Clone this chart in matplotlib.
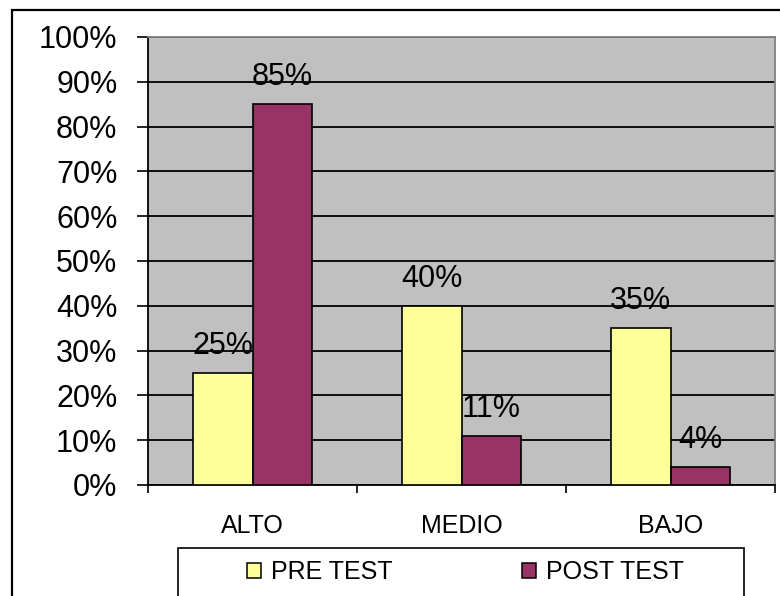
import numpy as np
import matplotlib
matplotlib.use("Agg")
import matplotlib.pyplot as plt
from matplotlib.patches import Rectangle, Patch
from matplotlib.ticker import FuncFormatter, FixedLocator

categories = ["ALTO", "MEDIO", "BAJO"]
pre_test = [25, 40, 35]
post_test = [85, 11, 4]
series_names = ["PRE TEST", "POST TEST"]
yticks = list(range(0, 101, 10))

YELLOW, PURPLE, PLOT_BG = "#FFFF99", "#993366", "#C0C0C0"

plt.rcParams["font.family"] = ["Liberation Sans", "DejaVu Sans"]

W, H = 780, 596
fig = plt.figure(figsize=(W / 100, H / 100), dpi=100, facecolor="white")

# plot area in pixel coords of the reference: x 148..775, y 37..485
ax = fig.add_axes([148 / W, 1 - 485 / H, (775 - 148) / W, (485 - 37) / H])
ax.set_facecolor(PLOT_BG)

x = np.arange(len(categories))
wbar = 0.287
b1 = ax.bar(x - wbar / 2, pre_test, wbar, color=YELLOW, edgecolor="black", linewidth=1.2, zorder=3)
b2 = ax.bar(x + wbar / 2, post_test, wbar, color=PURPLE, edgecolor="black", linewidth=1.2, zorder=3)

for bars, vals in ((b1, pre_test), (b2, post_test)):
    for rect, v in zip(bars, vals):
        ax.annotate(f"{v}%", (rect.get_x() + rect.get_width() / 2, v), xytext=(0, 19.5),
                    textcoords="offset points", ha="center", va="center", fontsize=22, zorder=4)

ax.set_xlim(-0.5, len(categories) - 0.5)
ax.set_ylim(0, 100)
ax.set_yticks(yticks)
ax.yaxis.set_major_formatter(FuncFormatter(lambda v, _: f"{v:.0f}%"))
ax.tick_params(axis="y", direction="out", length=8, width=1.2, pad=14, labelsize=22)
ax.yaxis.grid(True, color="black", linewidth=1.3, zorder=1)

ax.set_xticks(x)
ax.set_xticklabels(categories)
ax.xaxis.set_minor_locator(FixedLocator(np.arange(-0.5, len(categories), 1.0)))
ax.tick_params(axis="x", which="major", length=0, pad=21, labelsize=18)
ax.tick_params(axis="x", which="minor", direction="out", length=6, width=1.2)

for side in ("left", "bottom"):
    ax.spines[side].set_color("black")
    ax.spines[side].set_linewidth(1.3)
for side in ("top", "right"):
    ax.spines[side].set_color("#808080")
    ax.spines[side].set_linewidth(1.3)

# outer chart border (cut off at the right and bottom)
fig.patches.append(Rectangle((12 / W, -0.1), 1.2, 1 - 10 / H + 0.1, transform=fig.transFigure,
                             fill=False, edgecolor="black", linewidth=1.6, clip_on=False))
# legend frame (bottom cut off)
fig.patches.append(Rectangle((178 / W, -0.1), (744 - 178) / W, 1 - 548 / H + 0.1, transform=fig.transFigure,
                             fill=False, edgecolor="black", linewidth=1.2, clip_on=False))

handles = [Patch(facecolor=YELLOW, edgecolor="black", linewidth=1.1),
           Patch(facecolor=PURPLE, edgecolor="black", linewidth=1.1)]
fig.legend(handles, series_names, ncol=2, loc="center left", bbox_to_anchor=(247 / W, 1 - 572 / H),
           frameon=False, fontsize=18, borderpad=0, borderaxespad=0, handlelength=0.55,
           handleheight=0.55, handletextpad=0.4, columnspacing=5.2)

fig.savefig("out.png", dpi=100, facecolor="white")
